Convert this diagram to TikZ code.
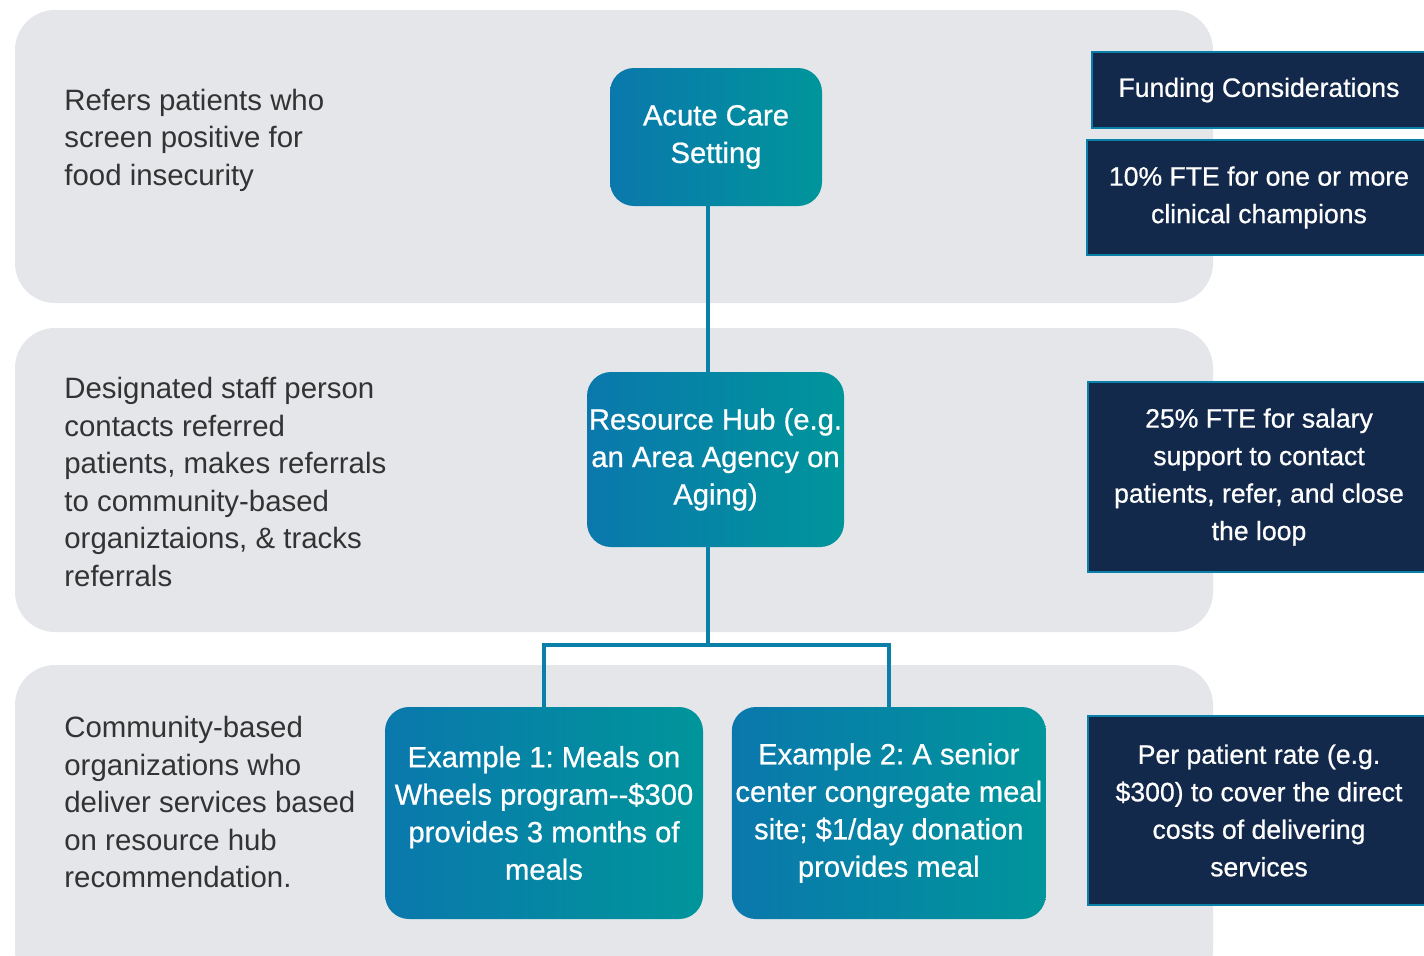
\documentclass[tikz,border=0pt]{standalone}
\usepackage{fontspec}
\setmainfont{Liberation Sans}
\newfontfamily\medfont{Liberation Sans}[FakeBold=0.7]
\frenchspacing
\usetikzlibrary{positioning, calc}

\definecolor{bandgray}{HTML}{E5E6EA}
\definecolor{tealL}{HTML}{0A78AC}
\definecolor{tealR}{HTML}{00959B}
\definecolor{navy}{HTML}{13294B}
\definecolor{linkblue}{HTML}{0A7FA8}
\definecolor{txtgray}{HTML}{333333}

\begin{document}
\begin{tikzpicture}[x=0.5pt, y=-0.5pt,
    band/.style={fill=bandgray, rounded corners=20pt},
    grad/.style={rounded corners=12pt, left color=tealL, right color=tealR, text=white,
      align=center, inner sep=0pt, font=\medfont\fontsize{14.6}{18.75}\selectfont},
    fund/.style={fill=navy, draw=linkblue, line width=1pt, text=white,
      align=center, inner sep=0pt, font=\medfont\fontsize{13.3}{18.75}\selectfont},
    note/.style={anchor=west, align=left, text=txtgray, inner sep=0pt,
      font=\fontsize{14.7}{18.75}\selectfont},
    conn/.style={draw=linkblue, line width=2pt}]
                    \useasboundingbox (0,0) rectangle (1424,955);

                    % grey bands
                    \fill[band] (15,10) rectangle (1213,303);
                    \fill[band] (15,328) rectangle (1213,632);
                    \fill[band] (15,665) rectangle (1213,990);

                    % left notes
                    \node[note] (10) at (64,140) {Refers patients who\\screen positive for\\food insecurity};
                    \node[note] (20) at (64,482) {Designated staff person\\contacts referred\\patients, makes referrals\\to community-based\\organiztaions, \& tracks\\referrals};
                    \node[note] (30) at (64,802) {Community-based\\organizations who\\deliver services based\\on resource hub\\recommendation.};

                    % flow boxes
                    \node[grad, minimum width=106pt, minimum height=69pt] (1) at (716,137) {Acute Care\\Setting};
                    \node[grad, minimum width=128.5pt, minimum height=87.5pt] (2) at (715.5,459.5) {Resource Hub (e.g.\\an Area Agency on\\Aging)};
                    \node[grad, minimum width=159pt, minimum height=106pt] (31) at (544,813) {Example 1: Meals on\\Wheels program{-}{-}\$300\\provides 3 months of\\meals};
                    \node[grad, minimum width=157pt, minimum height=106pt] (32) [right=14pt of 31] {Example 2: A senior\\center congregate meal\\site; \$1/day donation\\provides meal};

                    % funding column
                    \node[fund, minimum width=167pt, minimum height=38pt] (4) at (1259,90) {Funding Considerations};
                    \node[fund, minimum width=172pt, minimum height=57.5pt] (41) at (1259,197.5) {10\% FTE for one or more\\clinical champions};
                    \node[fund, minimum width=171pt, minimum height=95pt] (42) at (1259,477) {25\% FTE for salary\\support to contact\\patients, refer, and close\\the loop};
                    \node[fund, minimum width=171pt, minimum height=94.5pt] (43) at (1259,810.5) {Per patient rate (e.g.\\\$300) to cover the direct\\costs of delivering\\services};

                    % connectors
                    \coordinate (j) at (708,645);
                    \draw[conn] (1.south -| j) -- (2.north -| j);
                    \draw[conn] (2.south -| j) -- (j);
                    \draw[conn] (31.north) |- (j) -| (32.north);
                \end{tikzpicture}
\end{document}
